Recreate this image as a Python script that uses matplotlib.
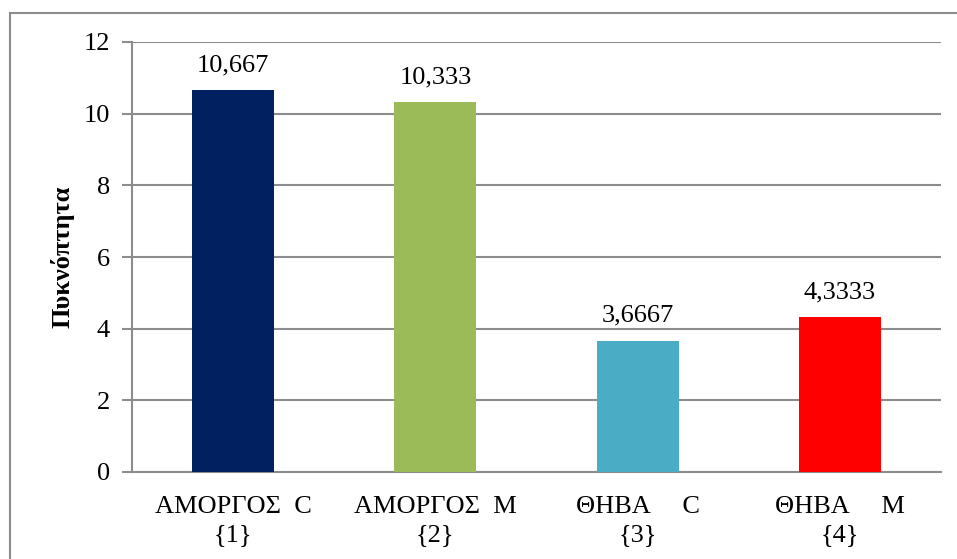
import matplotlib
matplotlib.use("Agg")
import matplotlib.pyplot as plt
from matplotlib.patches import Rectangle

categories = ["ΑΜΟΡΓΟΣ  C\n{1}", "ΑΜΟΡΓΟΣ  M\n{2}", "ΘΗΒΑ     C\n{3}", "ΘΗΒΑ     M\n{4}"]
values = [10.667, 10.333, 3.6667, 4.3333]
value_labels = ["10,667", "10,333", "3,6667", "4,3333"]
colors = ["#002060", "#9BBB59", "#4BACC6", "#FF0000"]
y_ticks = [0, 2, 4, 6, 8, 10, 12]
y_label = "Πυκνόπτητα"

FS = 19
plt.rcParams["font.family"] = ["Liberation Serif", "DejaVu Serif"]

fig = plt.figure(figsize=(9.57, 5.59), dpi=100)
ax = fig.add_axes([132 / 957, 1 - 472 / 559, (941 - 132) / 957, (472 - 42) / 559])

# outer chart frame
fig.patches.append(Rectangle((10 / 957, -0.05), 1.2, 1 - 13 / 559 + 0.05,
                             transform=fig.transFigure, fill=False,
                             edgecolor="#8c8c8c", linewidth=1.5))

x = list(range(len(categories)))
ax.bar(x, values, width=0.405, color=colors, zorder=3)
for xi, v, lab in zip(x, values, value_labels):
    ax.annotate(lab, (xi, v), xytext=(0, 13.5), textcoords="offset points",
                ha="center", va="baseline", fontsize=FS)

ax.set_xlim(-0.5, len(categories) - 0.5)
ax.set_ylim(0, 12)
ax.set_yticks(y_ticks)
ax.set_yticklabels([str(t) for t in y_ticks], fontsize=FS)
ax.set_xticks(x)
ax.set_xticklabels(categories, fontsize=FS, linespacing=1.38)
ax.tick_params(axis="x", length=0, pad=17)
ax.tick_params(axis="y", length=7, width=1.5, color="#8c8c8c", pad=9)

ax.grid(axis="y", color="#8c8c8c", linewidth=1.5, zorder=0)
for side in ["top", "right"]:
    ax.spines[side].set_visible(False)
for side in ["left", "bottom"]:
    ax.spines[side].set_color("#8c8c8c")
    ax.spines[side].set_linewidth(1.5)

ax.set_ylabel(y_label, fontsize=FS, fontweight="bold", labelpad=6)

fig.savefig("out.png", dpi=100, facecolor="white")
